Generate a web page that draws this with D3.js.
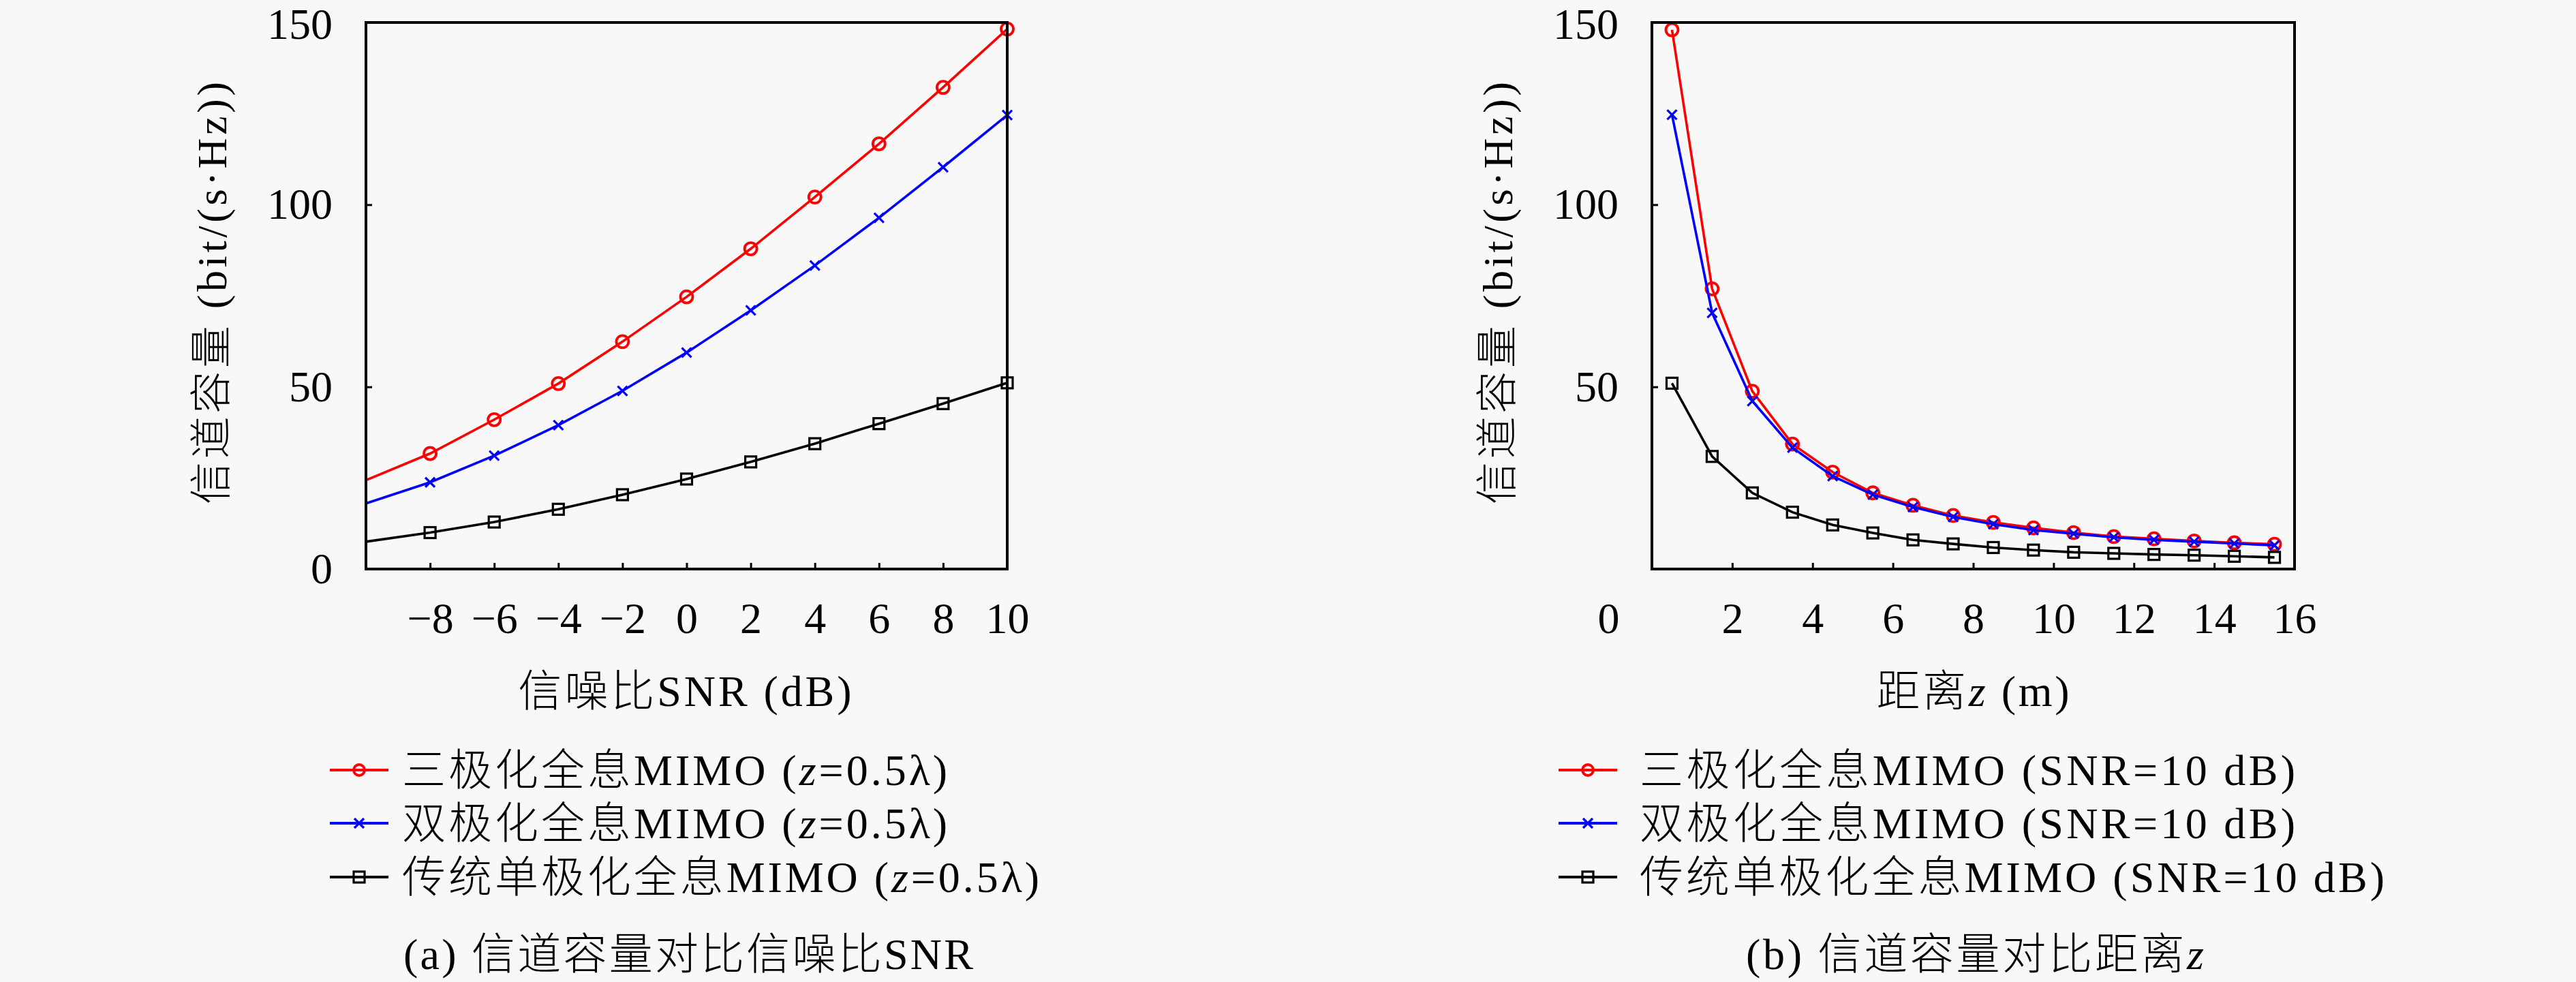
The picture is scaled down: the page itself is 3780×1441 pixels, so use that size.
<!DOCTYPE html>
<html>
<head>
<meta charset="utf-8">
<script src="https://cdn.jsdelivr.net/npm/d3@7"></script>
<style>
  body { margin: 0; background: #f8f8f8; }
  svg { display: block; }
  text { font-family: "Liberation Serif", "Noto Sans CJK SC", serif; fill: #000; font-weight: 300; }
</style>
</head>
<body>
<div id="wrapper"></div>
<script>
// 数据：信道容量 vs 信噪比 (z=0.5λ)
const snrX = [-10, -8, -6, -4, -2, 0, 2, 4, 6, 8, 10];
const triSNR = [24.4, 31.7, 41.0, 50.9, 62.4, 74.7, 87.9, 102.1, 116.7, 132.2, 148.2];
const dualSNR = [18.0, 23.8, 31.1, 39.5, 48.9, 59.4, 71.0, 83.3, 96.4, 110.3, 124.6];
const uniSNR = [7.5, 10.0, 12.9, 16.4, 20.4, 24.7, 29.4, 34.4, 39.9, 45.4, 51.1];
const snrTicks = [-8, -6, -4, -2, 0, 2, 4, 6, 8, 10];
const snrYTicks = [0, 50, 100, 150];

// 数据：信道容量 vs 距离 z (SNR=10 dB)
const distX = [0.5, 1.5, 2.5, 3.5, 4.5, 5.5, 6.5, 7.5, 8.5, 9.5, 10.5, 11.5, 12.5, 13.5, 14.5, 15.5];
const triDist = [148.0, 76.9, 48.8, 34.3, 26.6, 20.9, 17.5, 14.7, 12.8, 11.3, 10.0, 8.9, 8.3, 7.7, 7.2, 6.8];
const dualDist = [124.7, 70.3, 46.1, 33.3, 25.5, 20.4, 17.0, 14.3, 12.3, 10.7, 9.7, 8.7, 8.0, 7.5, 7.0, 6.5];
const uniDist = [51.0, 30.9, 20.9, 15.6, 12.1, 9.9, 8.0, 6.9, 5.9, 5.2, 4.6, 4.3, 4.0, 3.8, 3.5, 3.2];
const distTicks = [0, 2, 4, 6, 8, 10, 12, 14, 16];
const distYTicks = [50, 100, 150];

const seriesNames = ["三极化全息MIMO", "双极化全息MIMO", "传统单极化全息MIMO"];
const colors = ["#ff0000", "#0000ff", "#000000"];
const markers = ["circle", "cross", "square"];

const fontSize = 64;

const svg = d3.select("#wrapper").append("svg")
    .attr("width", 3780)
    .attr("height", 1441);

function drawMarker(g, type, color, x, y, big) {
    if (type === "circle") {
        g.append("circle").attr("cx", x).attr("cy", y).attr("r", big ? 9 : 8)
            .attr("fill", "none").attr("stroke", color).attr("stroke-width", 3.8);
    } else if (type === "cross") {
        const s = 7;
        g.append("path")
            .attr("d", `M${x - s},${y - s}L${x + s},${y + s}M${x - s},${y + s}L${x + s},${y - s}`)
            .attr("stroke", color).attr("stroke-width", 3.2).attr("fill", "none");
    } else {
        const s = 8;
        g.append("rect").attr("x", x - s).attr("y", y - s).attr("width", 2 * s).attr("height", 2 * s)
            .attr("fill", "none").attr("stroke", color).attr("stroke-width", 3.2);
    }
}

function addParts(textSel, parts) {
    parts.forEach(p => {
        const t = textSel.append("tspan").text(p.t);
        if (p.i) t.attr("font-style", "italic");
    });
}

function buildPanel(opt) {
    const dim = opt.dim;
    const xScale = d3.scaleLinear().domain(opt.xDomain).range([dim.left, dim.right]);
    const yScale = d3.scaleLinear().domain([0, 150]).range([dim.bottom, dim.top]);

    const g = svg.append("g");

    // lines and markers
    opt.series.forEach((vals, i) => {
        const pts = opt.xs.map((x, j) => ({ x: x, y: vals[j] }));
        const line = d3.line().x(d => xScale(d.x)).y(d => yScale(d.y));
        g.append("path")
            .attr("d", line(pts))
            .attr("fill", "none")
            .attr("stroke", colors[i])
            .attr("stroke-width", 3.6);
        pts.filter(d => d.x >= opt.markerFrom).forEach(d => {
            drawMarker(g, markers[i], colors[i], xScale(d.x), yScale(d.y), true);
        });
    });

    // axes, ticks point inward
    const xAxis = d3.axisBottom(xScale)
        .tickValues(opt.xTicks)
        .tickFormat(d3.format("d"))
        .tickSize(-9)
        .tickSizeOuter(0)
        .tickPadding(49);
    const gx = g.append("g")
        .attr("transform", `translate(0,${dim.bottom})`)
        .call(xAxis);

    const yAxis = d3.axisLeft(yScale)
        .tickValues(opt.yTicks)
        .tickFormat(d3.format("d"))
        .tickSize(-9)
        .tickSizeOuter(0)
        .tickPadding(49);
    const gy = g.append("g")
        .attr("transform", `translate(${dim.left},0)`)
        .call(yAxis);

    [gx, gy].forEach(a => {
        a.select(".domain").remove();
        a.selectAll(".tick line").attr("stroke", "#000").attr("stroke-width", 3);
        a.selectAll(".tick text")
            .attr("font-size", fontSize)
            .attr("font-family", "Liberation Serif, serif");
    });
    gy.selectAll(".tick text").filter(d => d === 150).attr("dy", "0.37em");
    if (opt.shiftZero) {
        gx.selectAll(".tick text").filter(d => d === 0).attr("dx", -64);
    }

    // box
    g.append("rect")
        .attr("x", dim.left).attr("y", dim.top)
        .attr("width", dim.right - dim.left)
        .attr("height", dim.bottom - dim.top)
        .attr("fill", "none")
        .attr("stroke", "#000")
        .attr("stroke-width", 4);

    const cx = (dim.left + dim.right) / 2;

    // y label
    const yl = g.append("text")
        .attr("transform", `translate(${dim.left - 226},${(dim.top + dim.bottom) / 2 - 4}) rotate(-90)`)
        .attr("text-anchor", "middle")
        .attr("dominant-baseline", "central")
        .attr("font-size", 62)
        .attr("textLength", 620)
        .attr("lengthAdjust", "spacing");
    addParts(yl, [{ t: "信道容量 " }, { t: "(bit/(s·Hz))" }]);

    // x label
    const xl = g.append("text")
        .attr("x", opt.xLabelX).attr("y", 1014)
        .attr("text-anchor", "middle")
        .attr("dominant-baseline", "central")
        .attr("font-size", fontSize)
        .attr("textLength", opt.xLabelW)
        .attr("lengthAdjust", "spacing");
    addParts(xl, opt.xLabel);

    // legend
    const rowsY = [1130, 1208, 1287];
    seriesNames.forEach((name, i) => {
        const lg = g.append("g");
        lg.append("line")
            .attr("x1", opt.legendX).attr("x2", opt.legendX + 86)
            .attr("y1", rowsY[i]).attr("y2", rowsY[i])
            .attr("stroke", colors[i]).attr("stroke-width", 3.8);
        drawMarker(lg, markers[i], colors[i], opt.legendX + 43, rowsY[i], false);
        const t = lg.append("text")
            .attr("x", opt.legendTextX).attr("y", rowsY[i])
            .attr("dominant-baseline", "central")
            .attr("font-size", fontSize)
            .attr("textLength", opt.legendW[i])
            .attr("lengthAdjust", "spacing");
        addParts(t, [{ t: name + " (" }].concat(opt.legendSuffix));
    });

    // caption
    const cap = g.append("text")
        .attr("x", opt.captionX).attr("y", 1400)
        .attr("text-anchor", "middle")
        .attr("dominant-baseline", "central")
        .attr("font-size", fontSize)
        .attr("textLength", opt.captionW)
        .attr("lengthAdjust", "spacing");
    addParts(cap, opt.caption);
}

buildPanel({
    dim: { left: 537, right: 1478, top: 33, bottom: 835 },
    xDomain: [-10, 10],
    xs: snrX,
    series: [triSNR, dualSNR, uniSNR],
    markerFrom: -8,
    xTicks: snrTicks,
    yTicks: snrYTicks,
    shiftZero: false,
    xLabel: [{ t: "信噪比SNR (dB)" }],
    xLabelX: 1005, xLabelW: 489,
    legendX: 484, legendTextX: 590,
    legendW: [800, 800, 935],
    legendSuffix: [{ t: "z", i: true }, { t: "=0.5λ)" }],
    caption: [{ t: "(a) 信道容量对比信噪比SNR" }],
    captionX: 1010, captionW: 836
});

buildPanel({
    dim: { left: 2424, right: 3367, top: 33, bottom: 835 },
    xDomain: [0, 16],
    xs: distX,
    series: [triDist, dualDist, uniDist],
    markerFrom: 0,
    xTicks: distTicks,
    yTicks: distYTicks,
    shiftZero: true,
    xLabel: [{ t: "距离" }, { t: "z", i: true }, { t: " (m)" }],
    xLabelX: 2895, xLabelW: 283,
    legendX: 2287, legendTextX: 2406,
    legendW: [962, 962, 1093],
    legendSuffix: [{ t: "SNR=10 dB)" }],
    caption: [{ t: "(b) 信道容量对比距离" }, { t: "z", i: true }],
    captionX: 2898, captionW: 672
});
</script>
</body>
</html>
